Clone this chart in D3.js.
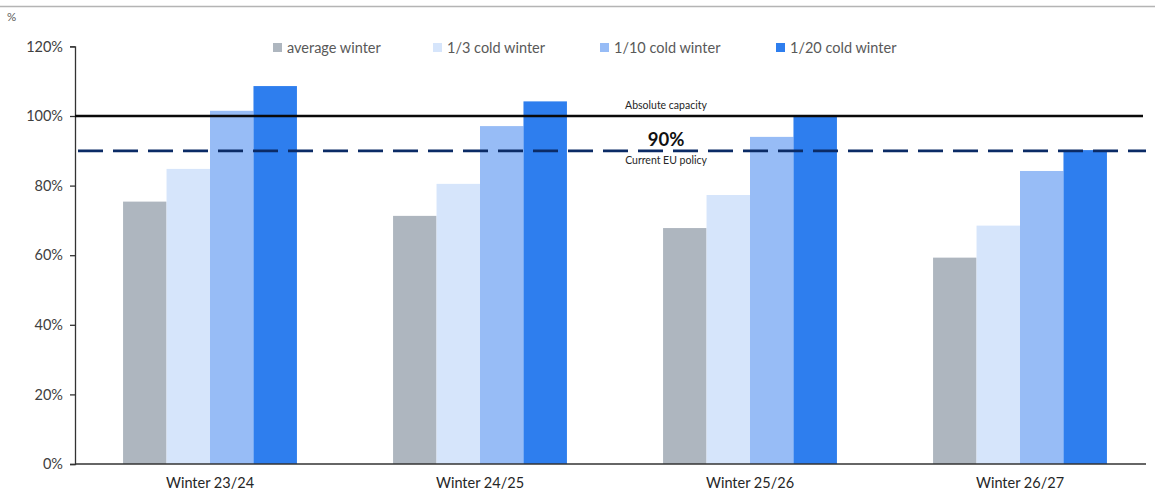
<!DOCTYPE html>
<html>
<head>
<meta charset="utf-8">
<script src="https://cdn.jsdelivr.net/npm/d3@7"></script>
<style>
  html, body { margin: 0; padding: 0; background: #fff; }
  svg { display: block; font-family: Lato, "Open Sans", sans-serif; }
</style>
</head>
<body>
<svg id="chart" width="1155" height="493"></svg>
<script>
// Gas storage filling level needed by winter scenario (% of capacity)
const winters = ["Winter 23/24", "Winter 24/25", "Winter 25/26", "Winter 26/27"];
const scenarios = ["average winter", "1/3 cold winter", "1/10 cold winter", "1/20 cold winter"];
const averageWinter = [75.4, 71.3, 67.8, 59.3];
const coldOneInThree = [84.8, 80.5, 77.3, 68.5];
const coldOneInTen = [101.5, 97.1, 94.0, 84.2];
const coldOneInTwenty = [108.6, 104.2, 100.0, 90.2];
const yTicks = [0, 20, 40, 60, 80, 100, 120];
const capacityLevel = 100;
const policyLevel = 90;

const seriesValues = [averageWinter, coldOneInThree, coldOneInTen, coldOneInTwenty];
const colors = ["#aeb6bf", "#d6e5fb", "#97bcf6", "#2e7eee"];

const svg = d3.select("#chart");
const W = 1155;
const plot = { left: 75, right: 1155, top: 46.4, bottom: 464 };

const y = d3.scaleLinear().domain([0, 120]).range([plot.bottom, plot.top]);
const x0 = d3.scaleBand().domain(winters).range([plot.left, plot.right])
  .paddingInner(0.356).paddingOuter(0.178);
const x1 = d3.scaleBand().domain(scenarios).range([0, x0.bandwidth()]);

// thin rule across the top of the figure
svg.append("line").attr("x1", 0).attr("x2", W).attr("y1", 6.5).attr("y2", 6.5)
  .attr("stroke", "#b4b4b4").attr("stroke-width", 1.5);

svg.append("text").attr("x", 7).attr("y", 21).attr("font-size", 11.5)
  .attr("fill", "#595959").text("%");

// bars
const groups = svg.append("g").selectAll("g").data(winters).join("g")
  .attr("transform", d => `translate(${x0(d)},0)`);
groups.selectAll("rect")
  .data((d, i) => scenarios.map((s, j) => ({ s, v: seriesValues[j][i], c: colors[j] })))
  .join("rect")
  .attr("x", d => x1(d.s))
  .attr("width", x1.bandwidth())
  .attr("y", d => y(d.v))
  .attr("height", d => y(0) - y(d.v))
  .attr("fill", d => d.c);

// y axis
const yAxis = svg.append("g").attr("transform", `translate(${plot.left},0)`)
  .call(d3.axisLeft(y).tickValues(yTicks).tickFormat(d => d + "%").tickSize(5).tickPadding(7));
yAxis.select(".domain").attr("stroke", "#333").attr("stroke-width", 1.3);
yAxis.selectAll(".tick line").attr("stroke", "#333").attr("stroke-width", 1.3);
yAxis.selectAll("text").attr("font-size", 14.5).attr("fill", "#404040")
  .attr("font-family", "Lato, sans-serif");

// x axis baseline and category labels
const xAxis = svg.append("g").attr("transform", `translate(0,${plot.bottom})`)
  .call(d3.axisBottom(x0).tickSize(0).tickPadding(14));
xAxis.select(".domain").attr("d", `M${plot.left},0H1146`).attr("stroke", "#333").attr("stroke-width", 1.3);
xAxis.selectAll("text").attr("font-size", 14.5).attr("fill", "#262626")
  .attr("font-family", "Lato, sans-serif");

// reference lines
svg.append("line").attr("x1", plot.left).attr("x2", 1143)
  .attr("y1", y(capacityLevel)).attr("y2", y(capacityLevel))
  .attr("stroke", "#0a0a0a").attr("stroke-width", 2.6);
svg.append("line").attr("x1", plot.left).attr("x2", 1146)
  .attr("y1", y(policyLevel)).attr("y2", y(policyLevel))
  .attr("stroke", "#0b2b66").attr("stroke-width", 2.8)
  .attr("stroke-dasharray", "25,10").attr("stroke-dashoffset", -3);

svg.append("text").attr("x", 666).attr("y", y(capacityLevel) - 7)
  .attr("text-anchor", "middle").attr("font-size", 10.5).attr("fill", "#262626")
  .text("Absolute capacity");
svg.append("text").attr("x", 666).attr("y", y(policyLevel) - 5)
  .attr("text-anchor", "middle").attr("font-size", 18.5).attr("font-weight", "bold")
  .attr("fill", "#111").text(policyLevel + "%");
svg.append("text").attr("x", 666).attr("y", y(policyLevel) + 13)
  .attr("text-anchor", "middle").attr("font-size", 10.5).attr("fill", "#262626")
  .text("Current EU policy");

// legend
const legendX = [273, 433, 600, 776];
const legend = svg.append("g").selectAll("g").data(scenarios).join("g")
  .attr("transform", (d, i) => `translate(${legendX[i]},48)`);
legend.append("rect").attr("x", 0).attr("y", -5).attr("width", 9).attr("height", 9)
  .attr("fill", (d, i) => colors[i]);
legend.append("text").attr("x", 14).attr("y", 5).attr("font-size", 14.5)
  .attr("fill", "#595959").text(d => d);
</script>
</body>
</html>
